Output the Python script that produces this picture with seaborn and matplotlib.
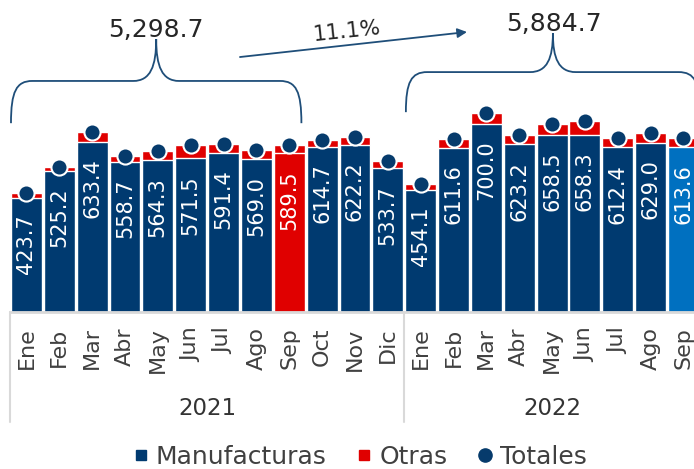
import matplotlib
matplotlib.use("Agg")
import matplotlib.pyplot as plt
import numpy as np
import pandas as pd
import seaborn as sns
from matplotlib.lines import Line2D
from matplotlib.path import Path
from matplotlib.patches import PathPatch

# --- data ---
months = ["Ene", "Feb", "Mar", "Abr", "May", "Jun", "Jul", "Ago", "Sep",
          "Oct", "Nov", "Dic",
          "Ene", "Feb", "Mar", "Abr", "May", "Jun", "Jul", "Ago", "Sep"]
years = ["2021"] * 12 + ["2022"] * 9
manufacturas = [423.7, 525.2, 633.4, 558.7, 564.3, 571.5, 591.4, 569.0, 589.5,
                614.7, 622.2, 533.7,
                454.1, 611.6, 700.0, 623.2, 658.5, 658.3, 612.4, 629.0, 613.6]
otras = [18, 14, 34, 20, 36, 50, 32, 35, 33, 25, 27, 27,
         21, 31, 41, 34, 42, 50, 35, 38, 32]
acumulado_labels = ["5,298.7", "5,884.7"]
variacion_label = "11.1%"

NAVY = "#003A70"
RED = "#E00000"
BLUE = "#0070C0"
DOT = "#063B6C"
GRID = "#D9D9D9"

df = pd.DataFrame({
    "periodo": [f"{m} {y}" for m, y in zip(months, years)],
    "mes": months,
    "anio": years,
    "manufacturas": manufacturas,
    "otras": otras,
})
df["total"] = df["manufacturas"] + df["otras"]
n = len(df)
pos = np.arange(n)

# highlighted bars: Sep 2021 red, Sep 2022 blue
bar_colors = [NAVY] * n
bar_colors[8] = RED
bar_colors[20] = BLUE

sns.set_style("white")
plt.rcParams["font.family"] = ["DejaVu Sans"]

fig = plt.figure(figsize=(6.94, 4.69), dpi=100)
ax = fig.add_axes([10 / 694, 1 - 312 / 469, 684 / 694, 312 / 469])

# stacked bars: total in red underneath, manufacturas on top of it
sns.barplot(data=df, x="periodo", y="total", color=RED, saturation=1,
            width=0.94, edgecolor="white", linewidth=1, errorbar=None, ax=ax)
sns.barplot(data=df, x="periodo", y="manufacturas", hue="periodo",
            palette=bar_colors, saturation=1, legend=False, width=0.94,
            edgecolor="white", linewidth=1, errorbar=None, ax=ax)
sns.scatterplot(x=pos, y=df["total"].to_numpy(), s=135, color=DOT,
                edgecolor="white", linewidth=1.5, zorder=5, ax=ax)

for i, v in enumerate(df["manufacturas"]):
    ax.annotate(f"{v:.1f}", (i, v), xytext=(0, -12), textcoords="offset points",
                rotation=90, ha="center", va="top", color="white", fontsize=15)

ax.set_xlim(-0.5, 20.32)
ax.set_ylim(0, 1160)
ax.set_yticks([])
ax.set_ylabel("")
ax.set_xlabel("")
ax.set_xticks(pos)
ax.set_xticklabels(df["mes"], rotation=90, fontsize=16, color="#404040")
ax.tick_params(axis="x", length=0, pad=11)
for side in ["top", "right", "left"]:
    ax.spines[side].set_visible(False)
ax.spines["bottom"].set_color(GRID)
ax.spines["bottom"].set_linewidth(2)

# year groups
xform = ax.get_xaxis_transform()
for x in [-0.5, 11.5]:
    ax.plot([x, x], [0, -0.353], transform=xform, color=GRID, lw=1.5,
            clip_on=False)
ax.text(5.5, -0.308, "2021", transform=xform, ha="center", va="center",
        fontsize=16.5, color="#333333")
ax.text(16.0, -0.308, "2022", transform=xform, ha="center", va="center",
        fontsize=16.5, color="#333333")


def brace(ax, x0, x1, y_end, y_h, y_tip, rx=0.65, tx=0.7):
    xc = (x0 + x1) / 2
    verts = [
        (x0, y_end), (x0, y_end + 0.75 * (y_h - y_end)), (x0 + 0.25 * rx, y_h), (x0 + rx, y_h),
        (xc - tx, y_h),
        (xc - 0.25 * tx, y_h), (xc, y_h + 0.35 * (y_tip - y_h)), (xc, y_tip),
        (xc, y_h + 0.35 * (y_tip - y_h)), (xc + 0.25 * tx, y_h), (xc + tx, y_h),
        (x1 - rx, y_h),
        (x1 - 0.25 * rx, y_h), (x1, y_end + 0.75 * (y_h - y_end)), (x1, y_end),
    ]
    codes = ([Path.MOVETO] + [Path.CURVE4] * 3 + [Path.LINETO]
             + [Path.CURVE4] * 6 + [Path.LINETO] + [Path.CURVE4] * 3)
    ax.add_patch(PathPatch(Path(verts, codes), facecolor="none",
                           edgecolor="#1F4E79", lw=1.3, clip_on=False))


brace(ax, -0.47, 8.37, 702, 859, 1015)
brace(ax, 11.55, 20.5, 743, 892, 1037)
ax.text(3.95, 1048, acumulado_labels[0], ha="center", va="center",
        fontsize=18, color="#262626")
ax.text(16.05, 1071, acumulado_labels[1], ha="center", va="center",
        fontsize=18, color="#262626")

ax.annotate("", xy=(13.41, 1041), xytext=(6.5, 948),
            arrowprops=dict(arrowstyle="-|>", color="#1F4E79", lw=1.3,
                            mutation_scale=14, shrinkA=0, shrinkB=0))
ax.text(9.76, 1043, variacion_label, ha="center", va="center", rotation=6,
        fontsize=15.5, color="#262626")

handles = [
    Line2D([], [], marker="s", color=NAVY, linestyle="none", markersize=7.5),
    Line2D([], [], marker="s", color=RED, linestyle="none", markersize=7.5),
    Line2D([], [], marker="o", color=DOT, linestyle="none", markersize=9.5),
]
fig.legend(handles, ["Manufacturas", "Otras", "Totales"], loc="center",
           bbox_to_anchor=(0.519, 0.026), ncol=3, frameon=False, fontsize=18,
           handlelength=0.6, handletextpad=0.3, columnspacing=1.2,
           labelcolor="#404040")

fig.savefig("out.png", dpi=100)
